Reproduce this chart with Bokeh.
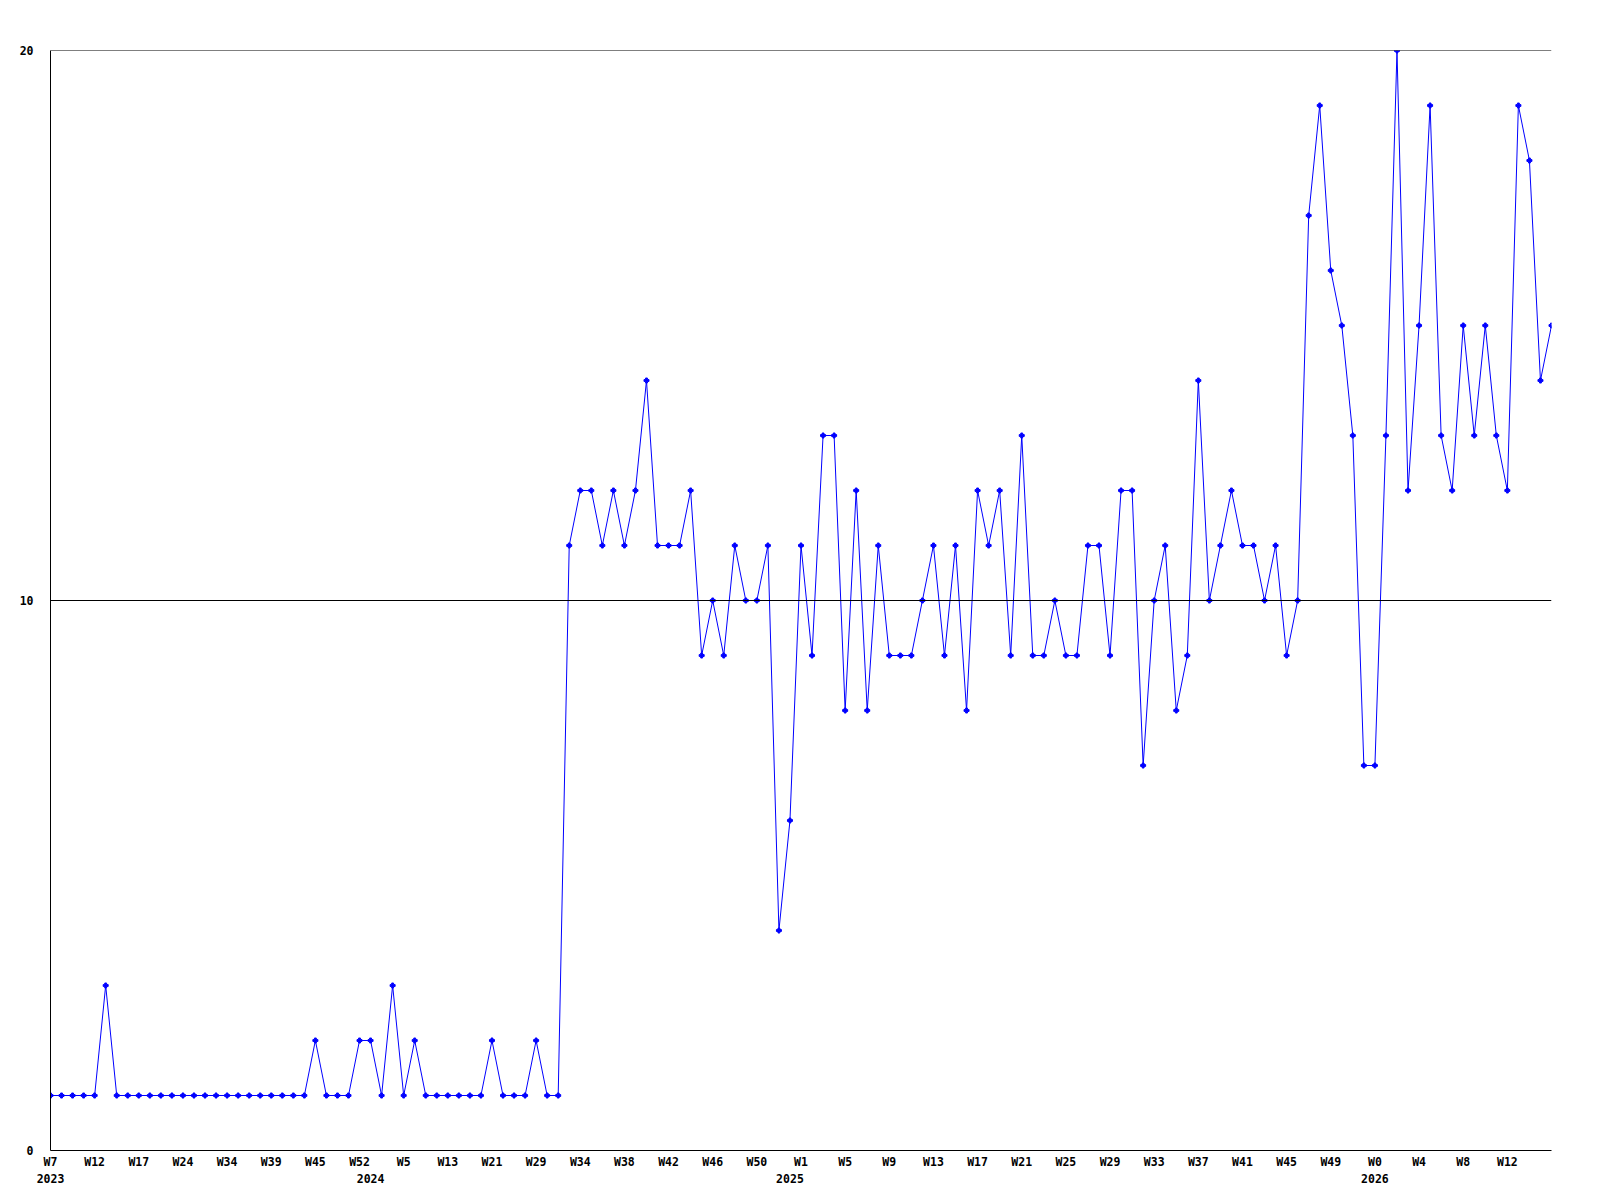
from bokeh.plotting import figure
from bokeh.models import Range1d, FixedTicker, Span, LinearAxis
from bokeh.embed import file_html
from bokeh.resources import INLINE

# ---- data ----
values = [
    1, 1, 1, 1, 1, 3, 1,
    1, 1, 1, 1, 1, 1, 1, 1, 1, 1, 1, 1, 1, 1, 1, 1, 1,
    2, 1, 1, 1, 2, 2, 1, 3, 1, 2, 1, 1, 1, 1, 1, 1, 2, 1, 1, 1, 2, 1, 1,
    11, 12, 12, 11, 12, 11, 12, 14, 11, 11,
    11, 12, 9, 10, 9, 11, 10, 10, 11, 4,
    6, 11, 9, 13, 13, 8, 12, 8, 11, 9,
    9, 9, 10, 11, 9, 11, 8, 12, 11, 12,
    9, 13, 9, 9, 10, 9, 9, 11, 11, 9,
    12, 12, 7, 10, 11, 8, 9, 14, 10, 11,
    12, 11, 11, 10, 11, 9, 10, 17, 19, 16,
    15, 13, 7, 7, 13, 20, 12, 15, 19, 13,
    12, 15, 13, 15, 13, 12, 19, 18, 14, 15,
]
tick_labels = ["W7", "W12", "W17", "W24", "W34", "W39", "W45", "W52",
               "W5", "W13", "W21", "W29", "W34", "W38", "W42", "W46", "W50",
               "W1", "W5", "W9", "W13", "W17", "W21", "W25", "W29", "W33",
               "W37", "W41", "W45", "W49",
               "W0", "W4", "W8", "W12"]
tick_step = 4
years = ["2023", "2024", "2025", "2026"]
year_start_idx = [0, 29, 67, 120]
y_ticks = [0, 10, 20]

xs = list(range(len(values)))
tick_pos = [i * tick_step for i in range(len(tick_labels))]

FONT = "DejaVu Sans Mono"
FSIZE = "11.5px"


def style_axis(ax, standoff):
    ax.major_tick_in = 0
    ax.major_tick_out = 0
    ax.minor_tick_in = 0
    ax.minor_tick_out = 0
    ax.major_label_standoff = standoff
    ax.major_label_text_font = FONT
    ax.major_label_text_font_style = "bold"
    ax.major_label_text_font_size = FSIZE
    ax.major_label_text_color = "black"


p = figure(width=1592, height=1192, output_backend="svg", toolbar_location=None,
           x_range=Range1d(0, len(values) - 1), y_range=Range1d(y_ticks[0], y_ticks[-1]),
           min_border_left=50, min_border_right=41, min_border_top=50, min_border_bottom=42)
p.outline_line_color = None
p.background_fill_color = "white"
p.border_fill_color = "white"
p.xgrid.visible = False
p.ygrid.visible = False

# week ticks
ax = p.xaxis[0]
ax.ticker = FixedTicker(ticks=tick_pos)
ax.major_label_overrides = {t: l for t, l in zip(tick_pos, tick_labels)}
ax.axis_line_color = "black"
ax.axis_line_width = 1
style_axis(ax, 4)

# year row
yax = LinearAxis(ticker=FixedTicker(ticks=year_start_idx),
                 major_label_overrides={t: y for t, y in zip(year_start_idx, years)})
yax.axis_line_color = None
style_axis(yax, 2)
p.add_layout(yax, "below")

# y axis with left-aligned labels
ay = p.yaxis[0]
ay.ticker = FixedTicker(ticks=y_ticks)
ay.axis_line_color = "black"
ay.axis_line_width = 1
style_axis(ay, 17)
ay.major_label_text_align = "left"

for t in y_ticks[1:]:
    p.add_layout(Span(location=t, dimension="width", line_color="black", line_width=1))

p.line(xs, values, line_color="#0000ff", line_width=1)
p.scatter(xs, values, marker="plus", size=5, color="#0000ff")

open("out.html", "w").write(file_html(p, INLINE))
